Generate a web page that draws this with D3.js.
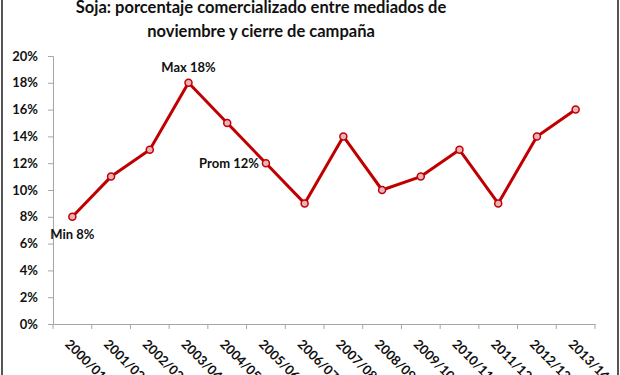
<!DOCTYPE html>
<html lang="es">
<head>
<meta charset="UTF-8" />
<title>Soja</title>
<script src="https://cdn.jsdelivr.net/npm/d3@7"></script>
<style>
  body { margin: 0; background: #fff; }
  text { font-family: Lato, "Open Sans", sans-serif; font-weight: bold; fill: #111; }
</style>
</head>
<body>
<script>
var campanias = ["2000/01", "2001/02", "2002/03", "2003/04", "2004/05", "2005/06", "2006/07",
  "2007/08", "2008/09", "2009/10", "2010/11", "2011/12", "2012/13", "2013/14"];
var porcentaje = [8, 11, 13, 18, 15, 12, 9, 14, 10, 11, 13, 9, 14, 16];
var ticksY = [0, 2, 4, 6, 8, 10, 12, 14, 16, 18, 20];
var notas = [
  { i: 0, texto: "Min 8%" },
  { i: 3, texto: "Max 18%" },
  { i: 5, texto: "Prom 12%" }
];

var W = 620, H = 375;
var svg = d3.select("body").append("svg").attr("width", W).attr("height", H);

// marco del gráfico
svg.append("rect").attr("x", 2).attr("y", -5).attr("width", 616).attr("height", H + 10)
  .attr("fill", "none").attr("stroke", "#555").attr("stroke-width", 2);

svg.append("text").attr("x", 261).attr("y", 13).attr("text-anchor", "middle")
  .style("font-size", "16.5px").text("Soja: porcentaje comercializado entre mediados de");
svg.append("text").attr("x", 261).attr("y", 37).attr("text-anchor", "middle")
  .style("font-size", "16.5px").text("noviembre y cierre de campaña");

var x = d3.scaleBand().domain(campanias).range([53, 595]);
var y = d3.scaleLinear().domain([0, 20]).range([324, 56]);

var gy = svg.append("g").attr("transform", "translate(53,0)")
  .call(d3.axisLeft(y).tickValues(ticksY).tickSize(5).tickPadding(10)
    .tickFormat(function (d) { return d + "%"; }));
var gx = svg.append("g").attr("transform", "translate(0,324)")
  .call(d3.axisBottom(x).tickSize(0).tickFormat(""));

[gx, gy].forEach(function (g) {
  g.select(".domain").attr("stroke", "#a6a6a6");
  g.selectAll(".tick line").attr("stroke", "#a6a6a6");
});
gy.selectAll("text").style("font-size", "13px").attr("fill", "#111");

// marcas de categoría entre campañas
var bordes = campanias.map(function (c) { return x(c); }).concat([x.range()[1]]);
svg.selectAll(".marca").data(bordes).enter().append("line")
  .attr("x1", function (d) { return d; }).attr("x2", function (d) { return d; })
  .attr("y1", 324).attr("y2", 329).attr("stroke", "#a6a6a6");

svg.selectAll(".etq").data(campanias).enter().append("text")
  .attr("transform", function (d) {
    return "translate(" + (x(d) + x.bandwidth() / 2 - 8) + ",345) rotate(45)";
  })
  .style("font-size", "13px").text(function (d) { return d; });

var cx = function (d, i) { return x(campanias[i]) + x.bandwidth() / 2; };
var linea = d3.line().x(cx).y(function (d) { return y(d); });

svg.append("path").datum(porcentaje).attr("d", linea)
  .attr("fill", "none").attr("stroke", "#c00000").attr("stroke-width", 3)
  .attr("stroke-linejoin", "round");

svg.selectAll(".pt").data(porcentaje).enter().append("circle")
  .attr("cx", cx).attr("cy", function (d) { return y(d); }).attr("r", 3.5)
  .attr("fill", "#e8b4bc").attr("stroke", "#c00000").attr("stroke-width", 1.5);

var pos = {
  "Min 8%": { dx: 0, dy: 22, anchor: "middle" },
  "Max 18%": { dx: 0, dy: -11, anchor: "middle" },
  "Prom 12%": { dx: -7, dy: 5, anchor: "end" }
};
svg.selectAll(".nota").data(notas).enter().append("text")
  .attr("x", function (d) { return cx(null, d.i) + pos[d.texto].dx; })
  .attr("y", function (d) { return y(porcentaje[d.i]) + pos[d.texto].dy; })
  .attr("text-anchor", function (d) { return pos[d.texto].anchor; })
  .style("font-size", "13px").text(function (d) { return d.texto; });
</script>
</body>
</html>
